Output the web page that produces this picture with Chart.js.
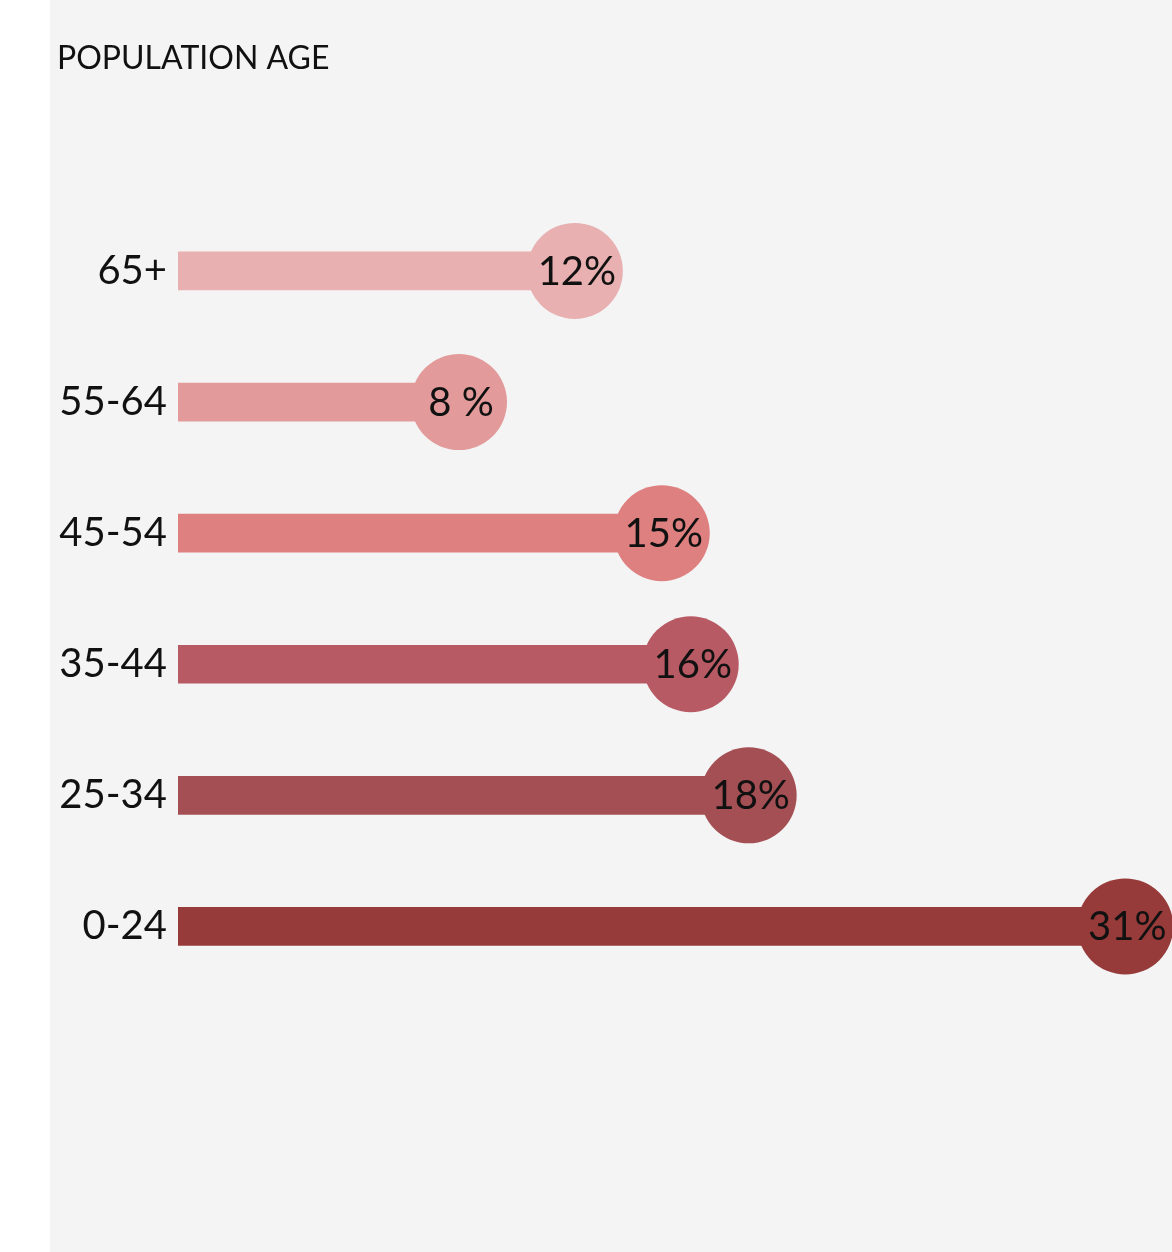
<!DOCTYPE html>
<html>
<head>
<meta charset="utf-8">
<title>Population age</title>
<script src="https://cdn.jsdelivr.net/npm/chart.js@4/dist/chart.umd.min.js"></script>
<style>
  html, body { margin:0; padding:0; background:#fff; }
  #wrap { width:1172px; height:1252px; position:relative; }
</style>
</head>
<body>
<div id="wrap"><canvas id="ageChart"></canvas></div>
<script>
const ageGroups = ["65+", "55-64", "45-54", "35-44", "25-34", "0-24"];
const sharePct = [12, 8, 15, 16, 18, 31];
const shareLabels = ["12%", "8 %", "15%", "16%", "18%", "31%"];
const rowColors = ["#e8b0b0", "#e29a9a", "#de807f", "#b85a64", "#a44f54", "#963a3a"];

const X_MIN = -1.7;

// grey panel with a white strip down the left edge
const panelBg = {
  id: "panelBg",
  beforeDraw(chart){
    const {ctx, width, height} = chart;
    ctx.save();
    ctx.fillStyle = "#ffffff";
    ctx.fillRect(0, 0, width, height);
    ctx.fillStyle = "#f4f4f4";
    ctx.fillRect(50, 0, width - 50, height);
    ctx.restore();
  }
};

// percentage text inside each end circle
const circleLabels = {
  id: "circleLabels",
  afterDatasetsDraw(chart){
    const meta = chart.getDatasetMeta(1);
    const {ctx} = chart;
    ctx.save();
    ctx.font = "40px Lato";
    ctx.fillStyle = "#111";
    ctx.textAlign = "center";
    ctx.textBaseline = "middle";
    meta.data.forEach((pt, i) => {
      ctx.fillText(shareLabels[i], pt.x + 2, pt.y + 1);
    });
    ctx.restore();
  }
};

new Chart(document.getElementById("ageChart"), {
  type: "bar",
  data: {
    labels: ageGroups,
    datasets: [
      {
        type: "bar",
        data: sharePct,
        base: X_MIN,
        backgroundColor: rowColors,
        barThickness: 38,
        borderWidth: 0,
        order: 1
      },
      {
        type: "line",
        indexAxis: "y",
        data: sharePct,
        showLine: false,
        pointRadius: 48,
        pointHoverRadius: 48,
        pointBackgroundColor: rowColors,
        pointBorderWidth: 0,
        clip: false,
        order: 0
      }
    ]
  },
  options: {
    indexAxis: "y",
    responsive: true,
    maintainAspectRatio: false,
    animation: false,
    layout: { autoPadding: false, padding: { left: 57, right: 12, top: 0, bottom: 260 } },
    plugins: {
      legend: { display: false },
      tooltip: { enabled: false },
      title: {
        display: true,
        text: "POPULATION AGE",
        align: "start",
        color: "#111",
        font: { family: "Lato", size: 32, weight: "normal" },
        padding: { top: 39, bottom: 128 }
      }
    },
    scales: {
      x: {
        display: false,
        min: X_MIN,
        max: 32.2
      },
      y: {
        grid: { display: false },
        border: { display: false },
        afterFit(scale){ scale.width = 121; },
        ticks: {
          color: "#111",
          padding: 3,
          font: { family: "Lato", size: 40 }
        }
      }
    }
  },
  plugins: [panelBg, circleLabels]
});
</script>
</body>
</html>
